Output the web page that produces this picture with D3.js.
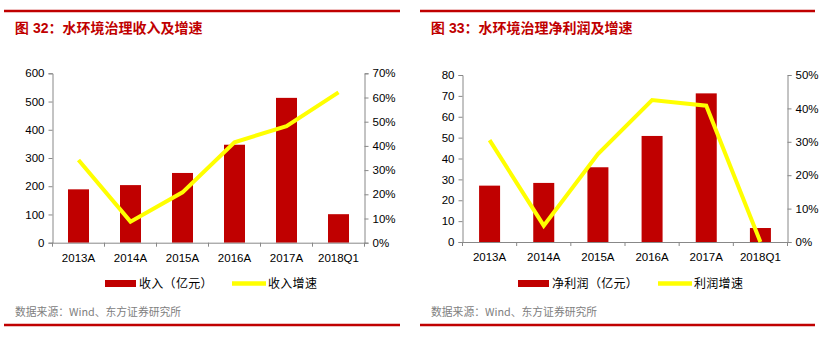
<!DOCTYPE html>
<html>
<head>
<meta charset="utf-8">
<script src="https://cdn.jsdelivr.net/npm/d3@7"></script>
<style>
  html, body { margin: 0; padding: 0; background: #fff; }
  svg { display: block; }
</style>
</head>
<body>
<svg id="chart" width="823" height="338"></svg>
<script>
// Shared categories
const categories = ["2013A", "2014A", "2015A", "2016A", "2017A", "2018Q1"];

// Figure 32: revenue (亿元) and growth
const revenue = [189, 204, 247, 347, 513, 101];
const revenueGrowth = [0.342, 0.087, 0.208, 0.415, 0.482, 0.621];
const revenueTicks = [0, 100, 200, 300, 400, 500, 600];
const revenueGrowthTicks = [0, 0.1, 0.2, 0.3, 0.4, 0.5, 0.6, 0.7];

// Figure 33: net profit (亿元) and growth
const profit = [27.0, 28.3, 35.8, 50.8, 71.2, 6.7];
const profitGrowth = [0.305, 0.049, 0.263, 0.425, 0.408, 0.0];
const profitTicks = [0, 10, 20, 30, 40, 50, 60, 70, 80];
const profitGrowthTicks = [0, 0.1, 0.2, 0.3, 0.4, 0.5];

const RED = "#c00000";
const YELLOW = "#ffff00";
const AXIS = "#888888";
const LATIN = "Arial, 'Liberation Sans', sans-serif";
const CJK = "'Noto Sans CJK SC', sans-serif";

const svg = d3.select("#chart");

function panel(opt) {
  const g = svg.append("g");

  // frame rules
  g.append("line").attr("x1", opt.ruleX0).attr("x2", opt.ruleX1)
    .attr("y1", 11).attr("y2", 11).attr("stroke", RED).attr("stroke-width", 2.5);
  g.append("line").attr("x1", opt.ruleX0).attr("x2", opt.ruleX1)
    .attr("y1", 325).attr("y2", 325).attr("stroke", RED).attr("stroke-width", 2.5);

  // title
  const t = g.append("text").attr("x", opt.titleX).attr("y", 33)
    .attr("fill", RED).attr("font-weight", "bold").attr("font-size", 14)
    .attr("font-family", CJK);
  t.append("tspan").attr("font-family", LATIN).text(opt.figNo);
  t.append("tspan").text(opt.title);

  // scales
  const xb = d3.scaleBand().domain(categories).range([opt.x0, opt.x1]);
  const y = d3.scaleLinear().domain([0, opt.yMax]).range([opt.yBottom, opt.yTop]);
  const y2 = d3.scaleLinear().domain([0, opt.y2Max]).range([opt.yBottom, opt.yTop]);
  const cx = c => xb(c) + xb.bandwidth() / 2;

  // bars
  g.append("g").selectAll("rect").data(opt.values).join("rect")
    .attr("x", (d, i) => cx(categories[i]) - 10.5)
    .attr("width", 21)
    .attr("y", d => y(d))
    .attr("height", d => y(0) - y(d))
    .attr("fill", RED);

  // left axis
  const la = g.append("g").attr("transform", `translate(${opt.x0},0)`)
    .call(d3.axisLeft(y).tickValues(opt.yTicks).tickSize(4).tickSizeOuter(4).tickPadding(4));
  // right axis
  const ra = g.append("g").attr("transform", `translate(${opt.x1},0)`)
    .call(d3.axisRight(y2).tickValues(opt.y2Ticks).tickSize(4).tickSizeOuter(4).tickPadding(4)
      .tickFormat(d3.format(".0%")));
  // bottom axis: ticks at category boundaries
  const boundaries = categories.map(c => xb(c)).concat([opt.x1]);
  const ba = g.append("g");
  ba.append("line").attr("x1", opt.x0).attr("x2", opt.x1)
    .attr("y1", opt.yBottom + 0.5).attr("y2", opt.yBottom + 0.5).attr("stroke", AXIS);
  ba.selectAll("line.tk").data(boundaries).join("line").attr("class", "tk")
    .attr("x1", d => d).attr("x2", d => d)
    .attr("y1", opt.yBottom).attr("y2", opt.yBottom + 4).attr("stroke", AXIS);
  ba.selectAll("text").data(categories).join("text")
    .attr("x", d => cx(d))
    .attr("y", opt.yBottom + 19)
    .attr("text-anchor", "middle")
    .attr("font-family", LATIN).attr("font-size", 11.5).attr("fill", "#000")
    .text(d => d);

  [la, ra].forEach(a => {
    a.selectAll("path, line").attr("stroke", AXIS);
    a.selectAll("text").attr("font-family", LATIN).attr("font-size", 11.5).attr("fill", "#000");
  });

  // growth line
  const line = d3.line().x((d, i) => cx(categories[i])).y(d => y2(d));
  g.append("path").datum(opt.growth).attr("d", line)
    .attr("fill", "none").attr("stroke", YELLOW).attr("stroke-width", 4)
    .attr("stroke-linejoin", "miter");

  // legend
  const ly = 283.5;
  g.append("rect").attr("x", opt.legX).attr("y", ly - 3.5).attr("width", 31).attr("height", 7).attr("fill", RED);
  g.append("text").attr("x", opt.legX + 34).attr("y", ly + 4.5)
    .attr("font-family", CJK).attr("font-size", 12).attr("letter-spacing", 0.3)
    .attr("fill", "#000").text(opt.legBar);
  g.append("line").attr("x1", opt.legX2).attr("x2", opt.legX2 + 34)
    .attr("y1", ly).attr("y2", ly).attr("stroke", YELLOW).attr("stroke-width", 4.5);
  g.append("text").attr("x", opt.legX2 + 36).attr("y", ly + 4.5)
    .attr("font-family", CJK).attr("font-size", 12).attr("letter-spacing", 0.3)
    .attr("fill", "#000").text(opt.legLine);

  // source note
  g.append("text").attr("x", opt.titleX).attr("y", 316)
    .attr("font-family", CJK).attr("font-size", 10.8).attr("fill", "#808080")
    .text("数据来源：Wind、东方证券研究所");
}

panel({
  ruleX0: 4, ruleX1: 400, titleX: 15,
  figNo: "图 32", title: "：水环境治理收入及增速",
  x0: 52.5, x1: 364.5, yTop: 73.3, yBottom: 242.7,
  yMax: 600, y2Max: 0.7,
  values: revenue, growth: revenueGrowth,
  yTicks: revenueTicks, y2Ticks: revenueGrowthTicks,
  legX: 105, legX2: 232,
  legBar: "收入（亿元）", legLine: "收入增速"
});

panel({
  ruleX0: 420, ruleX1: 815, titleX: 431,
  figNo: "图 33", title: "：水环境治理净利润及增速",
  x0: 462.5, x1: 787.5, yTop: 75, yBottom: 242,
  yMax: 80, y2Max: 0.5,
  values: profit, growth: profitGrowth,
  yTicks: profitTicks, y2Ticks: profitGrowthTicks,
  legX: 518, legX2: 658,
  legBar: "净利润（亿元）", legLine: "利润增速"
});
</script>
</body>
</html>
